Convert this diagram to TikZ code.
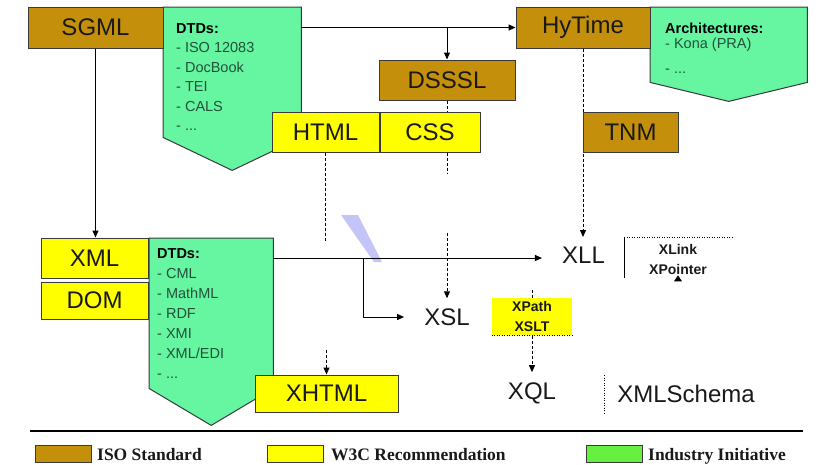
\documentclass[tikz,border=0pt]{standalone}
\usepackage{fontspec}
\setmainfont{Liberation Sans}
\newfontfamily\legendfont{Liberation Serif}
\usetikzlibrary{arrows.meta,positioning}
\definecolor{isobrown}{HTML}{C4900C}
\definecolor{wthreeyellow}{HTML}{FFFF00}
\definecolor{indgreen}{HTML}{66F5A0}
\definecolor{indlegend}{HTML}{66F040}
\definecolor{boxline}{HTML}{3A3A3A}
\definecolor{dtdtext}{HTML}{24503A}
\definecolor{stripe}{HTML}{C4C4F8}

\begin{document}
\begin{tikzpicture}[x=1pt,y=-1pt,
  every node/.style={font=\fontsize{24}{28}\selectfont,text=black!90},
  iso/.style={draw=boxline,fill=isobrown,line width=1pt,inner sep=0pt},
  wthree/.style={draw=boxline,fill=wthreeyellow,line width=1pt,inner sep=0pt},
  industry/.style={draw=boxline,fill=indgreen,line width=1pt},
  body/.style={inner sep=0pt,anchor=north west},
  dtdlist/.style={anchor=north west,align=left,inner sep=0pt,text=dtdtext,font=\fontsize{14.5}{19.5}\selectfont},
  bare/.style={inner xsep=20pt,inner ysep=10pt},
  boldlbl/.style={font=\bfseries\fontsize{14}{20}\selectfont,align=center,inner sep=0pt},
  arr/.style={-{Triangle[length=7pt,width=6pt]},line width=1pt},
  dsh/.style={line width=1pt,dash pattern=on 3pt off 2pt},
  dots/.style={line width=1pt,dash pattern=on 1pt off 1.5pt},
  legbox/.style={draw=boxline,line width=1pt,minimum width=56pt,minimum height=17pt,inner sep=0pt,anchor=west},
  legtext/.style={font=\legendfont\bfseries\fontsize{17.5}{20}\selectfont,anchor=base west,inner sep=0pt}
]
\useasboundingbox (0,0) rectangle (820,464);

% industry initiatives (pentagons)
\node[body,minimum width=138pt,minimum height=130pt] (dtdsgml) at (163,7) {};
\draw[industry] (dtdsgml.north west) -- (dtdsgml.north east) -- (dtdsgml.south east) -- ([yshift=-33pt]dtdsgml.south) -- (dtdsgml.south west) -- cycle;
\node[dtdlist] at ([shift={(13,16)}]dtdsgml.north west) {\textcolor{black}{\bfseries DTDs:}\\- ISO 12083\\- DocBook\\- TEI\\- CALS\\- ...};

\node[body,minimum width=157pt,minimum height=75pt] (archi) at (650,7) {};
\draw[industry] (archi.north west) -- (archi.north east) -- (archi.south east) -- ([yshift=-19pt]archi.south) -- (archi.south west) -- cycle;
\node[dtdlist] at ([shift={(15,16)}]archi.north west) {\textcolor{black}{\bfseries Architectures:}\\[-4.5pt]- Kona (PRA)\\[5.5pt]- ...};

\node[body,minimum width=124pt,minimum height=150pt] (dtdxml) at (149,238) {};
\draw[industry] (dtdxml.north west) -- (dtdxml.north east) -- (dtdxml.south east) -- ([yshift=-37pt]dtdxml.south) -- (dtdxml.south west) -- cycle;
\node[dtdlist,font=\fontsize{14.5}{20}\selectfont] at ([shift={(8,10)}]dtdxml.north west) {\textcolor{black}{\bfseries DTDs:}\\- CML\\- MathML\\- RDF\\- XMI\\- XML/EDI\\- ...};

\fill[stripe] (341,215) -- (358,215) -- (382,262) -- (374,262) -- cycle;

% standards and recommendations
\node[iso,minimum width=135pt,minimum height=41pt] (sgml) at (95.5,27.5) {SGML};
\node[iso,minimum width=134pt,minimum height=41pt] (hytime) at (583,27.5) {HyTime};
\node[iso,minimum width=136pt,minimum height=40pt] (dsssl) at (447,80) {DSSSL};
\node[wthree,minimum width=107pt,minimum height=40pt] (html) at (325.5,132) {HTML};
\node[wthree,minimum width=100pt,minimum height=40pt,right=0pt of html] (css) {CSS};
\draw[dsh,arr] (hytime.south) -- (583,237);
\node[iso,minimum width=95pt,minimum height=40pt] (tnm) at (630.5,132) {TNM};
\node[wthree,minimum width=107pt,minimum height=40pt] (xml) at (94.5,258) {XML};
\node[wthree,minimum width=107pt,minimum height=37pt,below=3pt of xml] (dom) {DOM};
\node[wthree,minimum width=143pt,minimum height=37pt] (xhtml) at (326.5,393.5) {XHTML};
\node[wthree,draw=none,minimum width=80pt,minimum height=37pt,boldlbl] (xpath) at (532,316.5) {XPath\\XSLT};
\draw[dots] (xpath.south west) -- (xpath.south east);

\node[bare] (xll) at (583.5,255) {XLL};
\node[bare] (xsl) at (447,317) {XSL};
\node[bare] (xql) at (532,393) {XQL};
\node[bare] (schema) at (686,394) {XMLSchema};
\node[boldlbl] (xlink) at (678,259) {XLink\\XPointer};

% connectors
\draw[arr] (sgml.south) -- (sgml.south |- xml.north);
\draw[arr] (dtdsgml.east |- hytime) -- (hytime);
\draw[arr] (dsssl.north |- hytime) -- (dsssl);
\draw[dsh] (dsssl) -- (dsssl |- css.north);
\draw[dsh] (dsssl |- css.south) -- ++(0,21);
\coordinate (xslfeed) at (447,233);
\draw[dsh,arr] (xslfeed) -- (xsl);
\draw[dsh] (html.south) -- ++(0,88);
\draw[arr] (dtdxml.east |- xml) -- (xll.west |- xml);
\coordinate (fork) at (363,258);
\draw[arr] (fork) |- (xsl);
\draw[dsh] ([yshift=8pt]xpath.north) -- (xpath.north);
\draw[dsh,arr] (xpath.south) -- (xql);
\draw[dsh,arr] ([yshift=25pt]xhtml.north) -- (xhtml);

% xlink bracket
\coordinate (brk) at (624,237);
\draw[line width=1pt] (brk) -- ++(0,41);
\draw[dots] (brk) -- ++(108,0);
\fill ([shift={(-4,7)}]xlink.south) -- ([shift={(4,7)}]xlink.south) -- ([shift={(0,1)}]xlink.south) -- cycle;
\draw[dots] ([xshift=7pt]schema.west) ++(0,-19) -- ++(0,38);

% legend
\draw[line width=1.5pt] (30,431) -- (803,431);
\node[legbox,fill=isobrown] (legiso) at (35,453.5) {};
\node[legtext] at (97,460) {ISO Standard};
\node[legbox,fill=wthreeyellow] (legwthree) at (267,453.5) {};
\node[legtext] at (331,460) {W3C Recommendation};
\node[legbox,fill=indlegend] (legind) at (586,453.5) {};
\node[legtext] at (648,460) {Industry Initiative};
\end{tikzpicture}
\end{document}
